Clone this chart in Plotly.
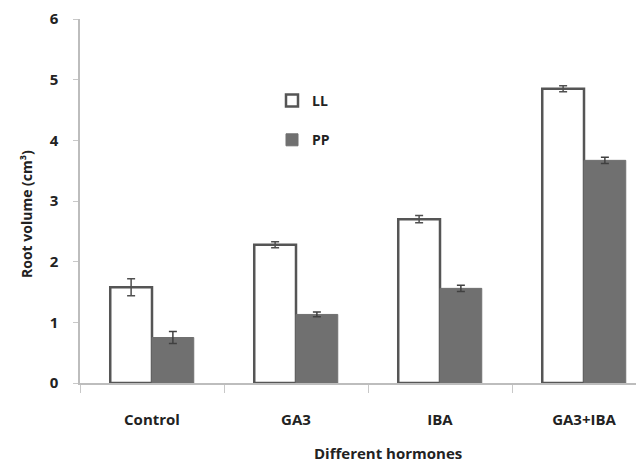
import plotly.graph_objects as go

categories = ["Control", "GA3", "IBA", "GA3+IBA"]
ll_values = [1.58, 2.28, 2.70, 4.85]
ll_errors = [0.14, 0.05, 0.06, 0.05]
pp_values = [0.75, 1.13, 1.56, 3.67]
pp_errors = [0.10, 0.04, 0.05, 0.05]

# page body has an 8px margin; figure is sized/offset to compensate
OFF = 8
W, H = 644 - OFF, 466 - OFF
TOP_PX, ZERO_PX = 19, 383
L, R, T, B = 80 - OFF, 0, TOP_PX - OFF, 466 - OFF - (ZERO_PX - OFF)
FONT = "Open Sans"

fig = go.Figure()
fig.add_trace(go.Bar(
    name="LL", x=categories, y=ll_values,
    marker=dict(color="white", line=dict(color="#555555", width=2.5)),
    error_y=dict(type="data", array=ll_errors, color="#505050", thickness=1.5, width=4),
    legendgroup="a",
))
fig.add_trace(go.Bar(
    name="PP", x=categories, y=pp_values,
    marker=dict(color="#707070", line=dict(color="#707070", width=1)),
    error_y=dict(type="data", array=pp_errors, color="#404040", thickness=1.5, width=4),
    legendgroup="b",
))

pw = W - L - R
ph = H - T - B
cat_px = 144.0
xmax = -0.5 + pw / cat_px

def fx(px):
    return (px - OFF - L) / pw

def fy(py):
    return 1 - (py - OFF - T) / ph

fig.update_layout(
    width=W, height=H,
    margin=dict(l=L, r=R, t=T, b=B, autoexpand=False),
    paper_bgcolor="white", plot_bgcolor="white",
    barmode="group", bargap=0.42, bargroupgap=0,
    font=dict(family=FONT, size=14, color="#222222"),
    showlegend=True,
    legend=dict(
        x=fx(272), y=fy(85), xanchor="left", yanchor="top",
        font=dict(family=FONT, size=14, color="#222222", weight="bold"),
        tracegroupgap=18, bgcolor="rgba(0,0,0,0)",
    ),
    xaxis=dict(
        range=[-0.5, xmax], showline=True, linecolor="#bdbdbd", linewidth=1.5,
        ticks="outside", tickson="boundaries", ticklen=8, tickcolor="#c8c8c8",
        ticklabelstandoff=22,
        tickfont=dict(family=FONT, size=15, color="#222222", weight="bold"),
        showgrid=False, zeroline=False,
    ),
    yaxis=dict(
        range=[0, 6], dtick=1, showline=True, linecolor="#bdbdbd", linewidth=1.5,
        ticks="outside", ticklen=5, tickcolor="#c8c8c8",
        ticklabelstandoff=12, ticklabeloverflow="allow",
        tickfont=dict(family=FONT, size=15, color="#222222", weight="bold"),
        showgrid=False, zeroline=False,
    ),
    annotations=[
        dict(
            text="Different hormones", xref="paper", yref="paper",
            x=fx(388), y=fy(453),
            xanchor="center", yanchor="middle", showarrow=False,
            font=dict(family=FONT, size=15, color="#222222", weight="bold"),
        ),
        dict(
            text="Root volume (cm³)", xref="paper", yref="paper",
            x=fx(26), y=fy(214), textangle=-90,
            xanchor="center", yanchor="middle", showarrow=False,
            font=dict(family=FONT, size=14, color="#222222", weight="bold"),
        ),
    ],
)

fig.write_html("out.html")
